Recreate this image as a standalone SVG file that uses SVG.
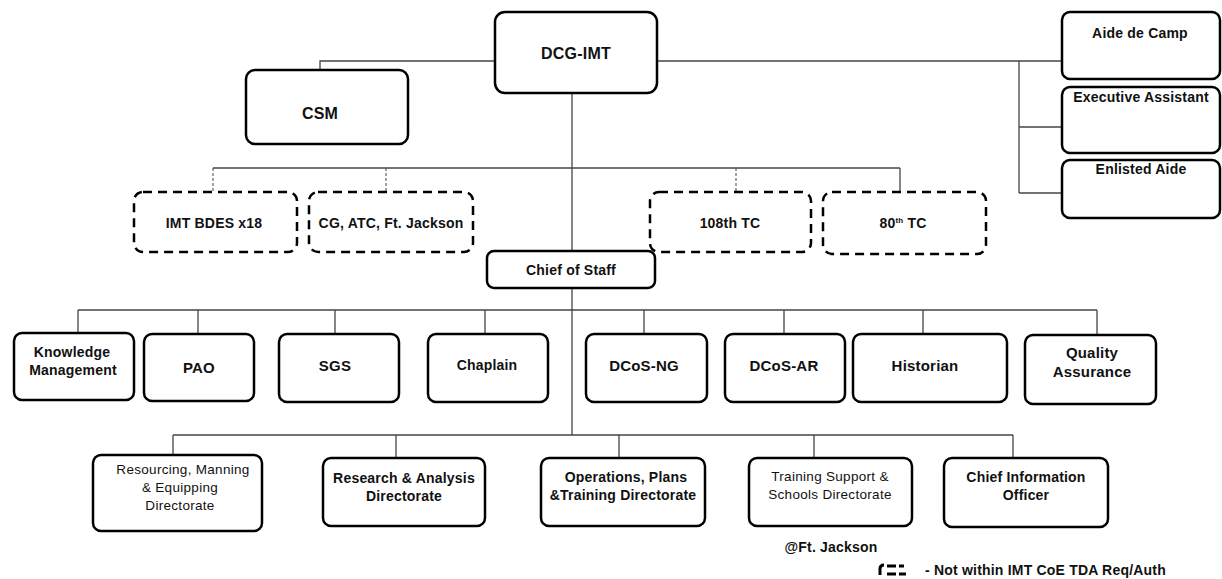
<svg xmlns="http://www.w3.org/2000/svg" width="1222" height="579" viewBox="0 0 1222 579">
  <style>
    .box { fill: #fff; stroke: #000; stroke-width: 2.5; }
    .dash { fill: #fff; stroke: #000; stroke-width: 2.5; stroke-dasharray: 9 6; }
    .ln { fill: none; stroke: #444; stroke-width: 1.3; }
    .lnd { fill: none; stroke: #444; stroke-width: 1; stroke-dasharray: 3 2; }
    text { font-family: "Liberation Sans", Arial, sans-serif; font-weight: bold; fill: #111; text-anchor: middle; letter-spacing: 0.2px; }
    .t16 { font-size: 16px; }
    .t15 { font-size: 15px; }
    .t14 { font-size: 14px; }
    .n14 { font-size: 13.5px; font-weight: normal; letter-spacing: 0.3px; }
  </style>

  <g id="connectors">
    <polyline class="ln" points="320,70 320,61 495,61"/>
    <line class="ln" x1="657" y1="61" x2="1062" y2="61"/>
    <line class="ln" x1="1019" y1="61" x2="1019" y2="193"/>
    <line class="ln" x1="1019" y1="127" x2="1062" y2="127"/>
    <line class="ln" x1="1019" y1="193" x2="1062" y2="193"/>
    <line class="ln" x1="572" y1="93" x2="572" y2="251"/>
    <line class="ln" x1="572" y1="288" x2="572" y2="435"/>
    <line class="ln" x1="213" y1="168" x2="900" y2="168"/>
    <line class="lnd" x1="213" y1="168" x2="213" y2="192"/>
    <line class="lnd" x1="386" y1="168" x2="386" y2="192"/>
    <line class="lnd" x1="736" y1="168" x2="736" y2="192"/>
    <line class="ln" x1="900" y1="168" x2="900" y2="192"/>
    <line class="ln" x1="78" y1="310" x2="1097" y2="310"/>
    <line class="ln" x1="78" y1="310" x2="78" y2="333"/>
    <line class="ln" x1="198" y1="310" x2="198" y2="334"/>
    <line class="ln" x1="335" y1="310" x2="335" y2="334"/>
    <line class="ln" x1="485" y1="310" x2="485" y2="334"/>
    <line class="ln" x1="644" y1="310" x2="644" y2="334"/>
    <line class="ln" x1="784" y1="310" x2="784" y2="334"/>
    <line class="ln" x1="923" y1="310" x2="923" y2="334"/>
    <line class="ln" x1="1097" y1="310" x2="1097" y2="335"/>
    <line class="ln" x1="173" y1="435" x2="1013" y2="435"/>
    <line class="ln" x1="173" y1="435" x2="173" y2="456"/>
    <line class="ln" x1="396" y1="435" x2="396" y2="458"/>
    <line class="ln" x1="619" y1="435" x2="619" y2="458"/>
    <line class="ln" x1="814" y1="435" x2="814" y2="458"/>
    <line class="ln" x1="1013" y1="435" x2="1013" y2="458"/>
  </g>

  <g id="dcg-imt"><rect class="box" x="495" y="12" width="162" height="81" rx="10"/><text class="t16" x="576" y="59">DCG-IMT</text></g>
  <g id="csm"><rect class="box" x="246" y="70" width="162" height="74" rx="9"/><text class="t16" x="320" y="119">CSM</text></g>

  <g id="aide-de-camp"><rect class="box" x="1062" y="12" width="158" height="67" rx="8"/><text class="t14" x="1140" y="38">Aide de Camp</text></g>
  <g id="executive-assistant"><rect class="box" x="1062" y="87" width="158" height="66" rx="8"/><text class="t14" x="1141" y="102" letter-spacing="-0.1">Executive Assistant</text></g>
  <g id="enlisted-aide"><rect class="box" x="1062" y="160" width="158" height="58" rx="8"/><text class="t14" x="1141" y="174">Enlisted Aide</text></g>

  <g id="imt-bdes"><rect class="dash" x="134" y="192" width="163" height="60" rx="9"/><text class="t14" x="214" y="228">IMT BDES x18</text></g>
  <g id="cg-atc"><rect class="dash" x="309" y="192" width="164" height="60" rx="9"/><text class="t14" x="391" y="228" letter-spacing="-0.2">CG, ATC, Ft. Jackson</text></g>
  <g id="tc-108"><rect class="dash" x="650" y="192" width="161" height="60" rx="9"/><text class="t14" x="730" y="228">108th TC</text></g>
  <g id="tc-80"><rect class="dash" x="823" y="192" width="163" height="62" rx="9"/><text class="t14" x="903" y="228">80<tspan font-size="8" dy="-5">th</tspan><tspan dy="5"> TC</tspan></text></g>

  <g id="chief-of-staff"><rect class="box" x="487" y="251" width="168" height="37" rx="7"/><text class="t14" x="571" y="275">Chief of Staff</text></g>

  <g id="knowledge-management"><rect class="box" x="14" y="333" width="120" height="67" rx="8"/><text class="t14" x="72" y="357">Knowledge</text><text class="t14" x="73" y="375">Management</text></g>
  <g id="pao"><rect class="box" x="144" y="334" width="110" height="67" rx="8"/><text class="t15" x="199" y="373">PAO</text></g>
  <g id="sgs"><rect class="box" x="279" y="334" width="120" height="68" rx="8"/><text class="t15" x="335" y="371">SGS</text></g>
  <g id="chaplain"><rect class="box" x="428" y="334" width="120" height="68" rx="8"/><text class="t14" x="487" y="370">Chaplain</text></g>
  <g id="dcos-ng"><rect class="box" x="586" y="334" width="121" height="68" rx="8"/><text class="t15" x="644" y="371">DCoS-NG</text></g>
  <g id="dcos-ar"><rect class="box" x="725" y="334" width="120" height="68" rx="8"/><text class="t15" x="784" y="371">DCoS-AR</text></g>
  <g id="historian"><rect class="box" x="853" y="334" width="154" height="68" rx="8"/><text class="t15" x="925" y="371">Historian</text></g>
  <g id="quality-assurance"><rect class="box" x="1025" y="335" width="131" height="69" rx="8"/><text class="t15" x="1092" y="358">Quality</text><text class="t15" x="1092" y="377">Assurance</text></g>

  <g id="resourcing"><rect class="box" x="93" y="455" width="169" height="76" rx="8"/><text class="n14" x="183" y="474">Resourcing, Manning</text><text class="n14" x="180" y="492">&amp; Equipping</text><text class="n14" x="180" y="510">Directorate</text></g>
  <g id="research-analysis"><rect class="box" x="323" y="458" width="162" height="68" rx="8"/><text class="t14" x="404" y="483">Research &amp; Analysis</text><text class="t14" x="404" y="501">Directorate</text></g>
  <g id="operations"><rect class="box" x="541" y="458" width="164" height="68" rx="8"/><text class="t14" x="626" y="482">Operations, Plans</text><text class="t14" x="623" y="500" letter-spacing="-0.2">&amp;Training Directorate</text></g>
  <g id="training-support"><rect class="box" x="749" y="458" width="163" height="68" rx="8"/><text class="n14" x="830" y="481">Training Support &amp;</text><text class="n14" x="830" y="499">Schools Directorate</text><text class="t14" x="831" y="552">@Ft. Jackson</text></g>
  <g id="cio"><rect class="box" x="944" y="458" width="164" height="69" rx="8" stroke="#3a0a0a"/><text class="t14" x="1026" y="482">Chief Information</text><text class="t14" x="1026" y="500">Officer</text></g>

  <g id="legend">
    <path d="M880,575 V569 Q880,565 884,565" fill="none" stroke="#000" stroke-width="3"/>
    <line x1="887" y1="566" x2="896" y2="566" stroke="#000" stroke-width="3"/>
    <line x1="899" y1="566" x2="904" y2="566" stroke="#000" stroke-width="3"/>
    <line x1="887" y1="574" x2="896" y2="574" stroke="#000" stroke-width="3"/>
    <line x1="899" y1="574" x2="906" y2="574" stroke="#000" stroke-width="3"/>
    <text class="t14" x="925" y="575" style="text-anchor:start">- Not within IMT CoE TDA Req/Auth</text>
  </g>
</svg>
